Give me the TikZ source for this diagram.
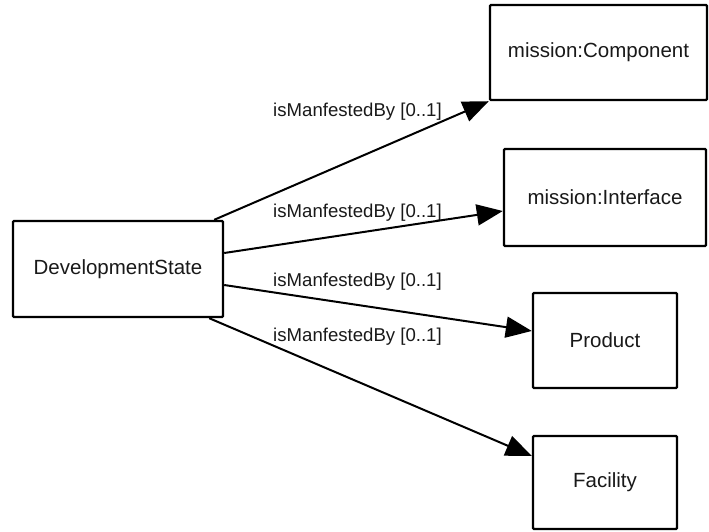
\documentclass[tikz,border=0pt]{standalone}
\usepackage{fontspec}
\setmainfont{Liberation Sans}
\usetikzlibrary{arrows.meta}
\begin{document}
\begin{tikzpicture}[x=1pt,y=-1pt,
  box/.style={draw=black, line width=2.4pt, fill=white, inner sep=0pt, rounded corners=1pt,
    font=\fontsize{20.5pt}{24pt}\selectfont, text=black!90},
  lbl/.style={inner sep=0pt, font=\fontsize{18.6pt}{22pt}\selectfont, text=black!90},
  rel/.style={draw=black, line width=2pt, -{Triangle[length=26pt,width=21pt]}}]
\useasboundingbox (0,0) rectangle (709,531);
\node[box, minimum width=210pt, minimum height=96pt] (ds) at (118,269) {DevelopmentState};
\node[box, minimum width=217pt, minimum height=95pt] (comp) at (598.5,52.5) {mission:Component};
\node[box, minimum width=202pt, minimum height=97pt] (intf) at (605,197.5) {mission:Interface};
\node[box, minimum width=144pt, minimum height=95pt] (prod) at (605,340.5) {Product};
\node[box, minimum width=144pt, minimum height=93pt] (fac) at (605,482.5) {Facility};
\node[lbl] (l1) at (357.5,112) {isManfestedBy [0..1]};
\node[lbl] (l2) at (357.5,213) {isManfestedBy [0..1]};
\node[lbl] (l3) at (357.5,282) {isManfestedBy [0..1]};
\node[lbl] (l4) at (357.5,337) {isManfestedBy [0..1]};
\draw[rel] ([xshift=-10pt]ds.north east) -- (comp.south west);
\draw[rel] ([yshift=16pt]ds.east) -- ([yshift=-13.5pt]intf.west);
\draw[rel] ([yshift=-16pt]ds.east) -- ([yshift=9.5pt]prod.west);
\draw[rel] ([xshift=-15pt]ds.south east) -- ([yshift=26.5pt]fac.west);
\end{tikzpicture}
\end{document}
